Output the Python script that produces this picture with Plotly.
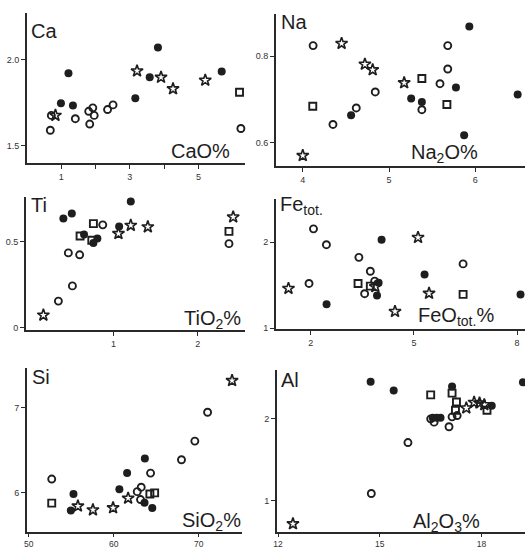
import plotly.graph_objects as go

W, H = 525, 551

# ---------------- data ----------------
# Ca panel (x: CaO %, y: Ca)
ca_filled_x = [1.21, 0.99, 1.34, 3.16, 3.58, 3.82, 5.68]
ca_filled_y = [1.92, 1.746, 1.734, 1.775, 1.897, 2.07, 1.93]
ca_circle_x = [0.71, 0.68, 1.41, 1.80, 1.92, 1.96, 1.83, 2.35, 2.51, 6.24]
ca_circle_y = [1.676, 1.59, 1.657, 1.70, 1.72, 1.676, 1.626, 1.71, 1.737, 1.60]
ca_star_x = [0.83, 3.21, 3.91, 4.26, 5.20]
ca_star_y = [1.676, 1.934, 1.897, 1.83, 1.88]
ca_square_x = [6.20]
ca_square_y = [1.81]

# Na panel
na_filled_x = [5.93, 5.775, 5.256, 5.38, 4.56, 5.87, 6.49]
na_filled_y = [0.868, 0.727, 0.702, 0.694, 0.663, 0.617, 0.711]
na_circle_x = [4.12, 4.84, 4.62, 4.35, 5.68, 5.68, 5.59, 5.38]
na_circle_y = [0.824, 0.717, 0.680, 0.642, 0.824, 0.770, 0.736, 0.676]
na_star_x = [4.45, 4.72, 4.81, 5.175, 4.0]
na_star_y = [0.829, 0.781, 0.768, 0.738, 0.570]
na_square_x = [4.116, 5.38, 5.67]
na_square_y = [0.684, 0.748, 0.688]

# Ti panel
ti_filled_x = [0.407, 0.507, 0.652, 0.81, 0.763, 1.206, 1.068]
ti_filled_y = [0.637, 0.666, 0.543, 0.520, 0.494, 0.737, 0.590]
ti_circle_x = [0.874, 0.466, 0.60, 0.514, 0.348, 2.37]
ti_circle_y = [0.60, 0.436, 0.425, 0.243, 0.154, 0.49]
ti_star_x = [0.17, 1.06, 1.206, 1.408, 2.42]
ti_star_y = [0.072, 0.549, 0.597, 0.588, 0.646]
ti_square_x = [0.763, 0.605, 0.744, 2.37]
ti_square_y = [0.607, 0.535, 0.51, 0.562]

# Fe panel
fe_filled_x = [4.06, 5.31, 2.46, 3.974, 3.927, 8.10]
fe_filled_y = [2.027, 1.623, 1.277, 1.527, 1.38, 1.392]
fe_circle_x = [2.08, 2.456, 1.95, 3.40, 3.733, 3.858, 3.567, 6.43]
fe_circle_y = [2.153, 1.969, 1.519, 1.822, 1.661, 1.546, 1.40, 1.746]
fe_star_x = [1.353, 5.12, 5.44, 4.45, 3.878]
fe_star_y = [1.461, 2.053, 1.404, 1.193, 1.481]
fe_square_x = [3.376, 3.733, 6.43]
fe_square_y = [1.519, 1.488, 1.392]

# Si panel
si_filled_x = [63.67, 61.58, 60.67, 55.27, 54.96, 63.63, 64.54]
si_filled_y = [6.405, 6.233, 6.043, 5.988, 5.794, 5.883, 5.821]
si_circle_x = [71.05, 69.55, 67.98, 52.71, 64.34, 62.77, 63.24, 63.16]
si_circle_y = [6.949, 6.61, 6.39, 6.163, 6.233, 6.015, 6.067, 5.922]
si_star_x = [73.93, 55.79, 57.56, 59.93, 61.7]
si_star_y = [7.322, 5.845, 5.80, 5.825, 5.938]
si_square_x = [52.71, 64.26, 64.82]
si_square_y = [5.88, 5.988, 6.0]

# Al panel
al_filled_x = [14.73, 15.41, 17.13, 19.22, 18.30, 16.56, 16.68, 16.79]
al_filled_y = [2.448, 2.34, 2.388, 2.44, 2.156, 2.008, 2.008, 2.008]
al_circle_x = [14.75, 15.83, 17.04, 16.50, 16.60, 17.13, 17.28]
al_circle_y = [1.088, 1.708, 1.90, 1.996, 1.956, 2.02, 2.036]
al_star_x = [12.44, 17.55, 17.78, 17.94, 18.08]
al_star_y = [0.719, 2.128, 2.196, 2.188, 2.168]
al_square_x = [16.50, 17.13, 17.26, 17.23, 18.16]
al_square_y = [2.288, 2.309, 2.20, 2.10, 2.10]

# tick labels (minor = unlabeled ticks)
ca_xticks, ca_xtext, ca_xminor = [1, 3, 5], ["1", "3", "5"], [2, 4]
ca_yticks, ca_ytext = [1.5, 2.0], ["1.5", "2.0"]
na_xticks, na_xtext, na_xminor = [4, 5, 6], ["4", "5", "6"], []
na_yticks, na_ytext = [0.6, 0.8], ["0.6", "0.8"]
ti_xticks, ti_xtext, ti_xminor = [1, 2], ["1", "2"], []
ti_yticks, ti_ytext = [0, 0.5], ["0", "0.5"]
fe_xticks, fe_xtext, fe_xminor = [2, 5, 8], ["2", "5", "8"], []
fe_yticks, fe_ytext = [1, 2], ["1", "2"]
si_xticks, si_xtext, si_xminor = [50, 60, 70], ["50", "60", "70"], []
si_yticks, si_ytext = [6, 7], ["6", "7"]
al_xticks, al_xtext, al_xminor = [12, 15, 18], ["12", "15", "18"], []
al_yticks, al_ytext = [1, 2], ["1", "2"]

# ---------------- layout helpers ----------------
def px_x(p):
    return p / W

def px_y(p):
    return 1 - p / H

INK = "#1e1e1e"
panels = [
    ("ca", (27, 245, 13, 163), [0.0, 6.36], [1.40, 2.27],
     (ca_filled_x, ca_filled_y, ca_circle_x, ca_circle_y, ca_star_x, ca_star_y, ca_square_x, ca_square_y),
     (ca_xticks, ca_xtext, ca_xminor, ca_yticks, ca_ytext)),
    ("na", (276, 525, 14, 166), [3.69, 6.575], [0.546, 0.897],
     (na_filled_x, na_filled_y, na_circle_x, na_circle_y, na_star_x, na_star_y, na_square_x, na_square_y),
     (na_xticks, na_xtext, na_xminor, na_yticks, na_ytext)),
    ("ti", (26, 245, 197, 330), [-0.036, 2.56], [-0.015, 0.763],
     (ti_filled_x, ti_filled_y, ti_circle_x, ti_circle_y, ti_star_x, ti_star_y, ti_square_x, ti_square_y),
     (ti_xticks, ti_xtext, ti_xminor, ti_yticks, ti_ytext)),
    ("fe", (276, 525, 199, 329), [0.99, 8.23], [0.99, 2.5],
     (fe_filled_x, fe_filled_y, fe_circle_x, fe_circle_y, fe_star_x, fe_star_y, fe_square_x, fe_square_y),
     (fe_xticks, fe_xtext, fe_xminor, fe_yticks, fe_ytext)),
    ("si", (27, 242, 368, 532), [49.8, 75.1], [5.54, 7.47],
     (si_filled_x, si_filled_y, si_circle_x, si_circle_y, si_star_x, si_star_y, si_square_x, si_square_y),
     (si_xticks, si_xtext, si_xminor, si_yticks, si_ytext)),
    ("al", (277, 525, 370, 532), [11.97, 19.28], [0.62, 2.59],
     (al_filled_x, al_filled_y, al_circle_x, al_circle_y, al_star_x, al_star_y, al_square_x, al_square_y),
     (al_xticks, al_xtext, al_xminor, al_yticks, al_ytext)),
]

fig = go.Figure()
layout = dict(
    width=W, height=H,
    margin=dict(l=0, r=0, t=0, b=0),
    paper_bgcolor="white", plot_bgcolor="white",
    showlegend=False,
    font=dict(family="Liberation Sans, Arial, sans-serif", color=INK),
)

for i, (name, box, xr, yr, data, ticks) in enumerate(panels):
    n = "" if i == 0 else str(i + 1)
    xa, ya = "x" + n, "y" + n
    fx, fy, cx, cy, sx, sy, qx, qy = data
    common = dict(xaxis=xa, yaxis=ya, mode="markers", cliponaxis=False, hoverinfo="skip")
    fig.add_trace(go.Scatter(x=cx, y=cy, marker=dict(symbol="circle-open", size=7,
                  line=dict(width=1.9, color=INK), color=INK), **common))
    fig.add_trace(go.Scatter(x=qx, y=qy, marker=dict(symbol="square-open", size=7,
                  line=dict(width=1.9, color=INK), color=INK), **common))
    fig.add_trace(go.Scatter(x=sx, y=sy, marker=dict(symbol="star-open", size=9,
                  line=dict(width=1.6, color=INK), color=INK), **common))
    fig.add_trace(go.Scatter(x=fx, y=fy, marker=dict(symbol="circle", size=8,
                  color=INK, line=dict(width=0)), **common))
    x0, x1, yt, yb = box
    xt, xtt, xmin, yt_, ytt = ticks
    bottom_row = yb > 500
    axstyle = dict(showline=True, linecolor="#2a2a2a", linewidth=2, showgrid=False,
                   zeroline=False, ticks="outside", ticklen=4, tickwidth=1.2,
                   tickcolor="#2a2a2a", tickfont=dict(size=9, color="#333"),
                   automargin=False, fixedrange=True)
    xaxis = dict(domain=[px_x(x0), min(1.0, px_x(x1))], range=xr,
                 anchor=ya, tickvals=xt, ticktext=xtt, **axstyle)
    if bottom_row:
        xaxis["ticklen"] = 3
        xaxis["tickfont"] = dict(size=8.5, color="#333")
    if xmin:
        xaxis["minor"] = dict(tickvals=xmin, ticks="outside", ticklen=4, tickwidth=1.2,
                              tickcolor="#2a2a2a", showgrid=False)
    layout["xaxis" + n] = xaxis
    layout["yaxis" + n] = dict(domain=[px_y(yb), px_y(yt)], range=yr,
                               anchor=xa, tickvals=yt_, ticktext=ytt, **axstyle)

fig.update_layout(**layout)

# panel titles and axis labels
big = dict(size=20, color=INK, family="Liberation Sans, Arial, sans-serif")
texts = [
    ("Ca", 29, 31), ("Na", 279, 22), ("Ti", 29, 205), ("Fe<sub>tot.</sub>", 278, 206),
    ("Si", 30, 377), ("Al", 279, 380),
]
for t, x, y in texts:
    fig.add_annotation(text=t, x=px_x(x), y=px_y(y), xref="paper", yref="paper",
                       xanchor="left", yanchor="middle", showarrow=False, font=big)

labels = [
    ("CaO%", 232, 151), ("Na<sub>2</sub>O%", 480, 153), ("TiO<sub>2</sub>%", 243, 319),
    ("FeO<sub>tot.</sub>%", 496, 316), ("SiO<sub>2</sub>%", 243, 521), ("Al<sub>2</sub>O<sub>3</sub>%", 482, 522),
]
for t, x, y in labels:
    fig.add_annotation(text=t, x=px_x(x), y=px_y(y), xref="paper", yref="paper",
                       xanchor="right", yanchor="middle", showarrow=False, font=big)

fig.write_html("out.html")
